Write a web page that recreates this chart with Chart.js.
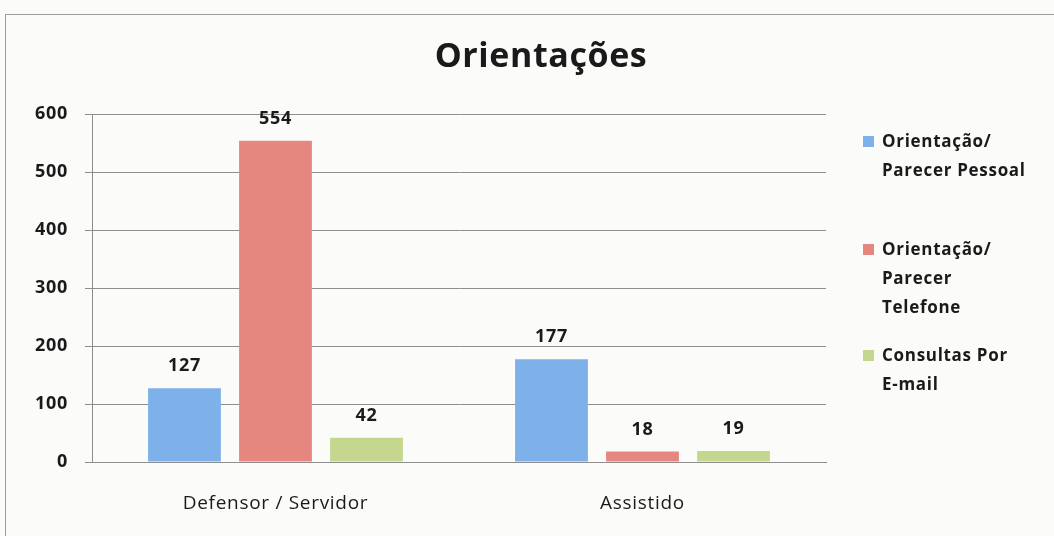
<!DOCTYPE html>
<html>
<head>
<meta charset="utf-8">
<script src="https://cdn.jsdelivr.net/npm/chart.js@4/dist/chart.umd.min.js"></script>
<style>
  html, body { margin: 0; padding: 0; background: #fbfcfa; }
  #wrap { position: relative; width: 1054px; height: 536px; overflow: hidden; }
  #frame {
    position: absolute; left: 5px; top: 14px; width: 1100px; height: 600px;
    border-top: 1px solid #9d9d9d; border-left: 1px solid #9d9d9d;
  }
  canvas { position: absolute; left: 0; top: 0; }
</style>
</head>
<body>
<div id="wrap">
  <div id="frame"></div>
  <canvas id="chart" width="1054" height="536"></canvas>
</div>
<script>
// ─── Data ───────────────────────────────────────────────────

const TITLE = 'Orientações';
const categories = ['Defensor / Servidor', 'Assistido'];
const seriesNames = [
  'Orientação/ Parecer Pessoal',
  'Orientação/ Parecer Telefone',
  'Consultas Por E-mail',
];
const legendLines = [
  ['Orientação/', 'Parecer Pessoal'],
  ['Orientação/', 'Parecer', 'Telefone'],
  ['Consultas Por', 'E-mail'],
];
const pessoal = [127, 177];
const telefone = [554, 18];
const email = [42, 19];
const yMin = 0;
const yMax = 600;
const yStep = 100;

const seriesColors = ['#7eb1ea', '#e6877f', '#c5d78e'];

// ─── Styling ────────────────────────────────────────────────

const FONT = '"Open Sans", Lato, sans-serif';
const GRID = '#8e8e8e';
const INK = '#1a1a1a';

// ─── Title, legend and value labels ─────────────────────────

const decorPlugin = {
  id: 'decor',
  beforeDraw(chart) {
    // the scanned original has loose letter spacing everywhere
    chart.ctx.letterSpacing = '0.7px';
  },
  afterDraw(chart) {
    const ctx = chart.ctx;
    const area = chart.chartArea;
    ctx.save();

    // title
    ctx.fillStyle = INK;
    ctx.letterSpacing = '0.6px';
    ctx.font = `bold 34px ${FONT}`;
    ctx.textAlign = 'center';
    ctx.textBaseline = 'middle';
    ctx.fillText(TITLE, 541, 57);

    // value labels above bars
    ctx.letterSpacing = '0.7px';
    ctx.font = `bold 18px ${FONT}`;
    chart.data.datasets.forEach((ds, i) => {
      const meta = chart.getDatasetMeta(i);
      meta.data.forEach((bar, j) => {
        const y = Math.max(bar.y - 22, area.top + 4);
        ctx.fillText(String(ds.data[j]), bar.x, y);
      });
    });

    // legend
    const itemTops = [142, 250, 356];
    const lineH = 29;
    ctx.textAlign = 'left';
    ctx.font = `bold 17px ${FONT}`;
    legendLines.forEach((lines, i) => {
      const y0 = itemTops[i];
      ctx.fillStyle = seriesColors[i];
      ctx.fillRect(863, y0 - 6, 11, 11);
      ctx.fillStyle = INK;
      lines.forEach((t, k) => ctx.fillText(t, 882, y0 + k * lineH));
    });

    ctx.restore();
  },
};

// ─── Chart ──────────────────────────────────────────────────

const datasets = [pessoal, telefone, email].map((values, i) => ({
  label: seriesNames[i],
  data: values,
  backgroundColor: seriesColors[i],
  borderWidth: 0,
  categoryPercentage: 0.744,
  barPercentage: 0.80,
}));

new Chart(document.getElementById('chart'), {
  type: 'bar',
  data: { labels: categories, datasets },
  plugins: [decorPlugin],
  options: {
    responsive: false,
    animation: false,
    layout: { padding: { left: 0, right: 228, top: 114, bottom: 0 } },
    plugins: {
      legend: { display: false },
      title: { display: false },
      tooltip: { enabled: false },
    },
    scales: {
      x: {
        grid: { display: false, drawTicks: false },
        border: { display: true, color: GRID, width: 1 },
        ticks: { color: INK, padding: 30, font: { family: FONT, size: 19 } },
        afterFit: scale => { scale.height = 74; },
      },
      y: {
        min: yMin,
        max: yMax,
        ticks: {
          stepSize: yStep,
          color: INK,
          padding: 17,
          font: { family: FONT, size: 18, weight: 'bold' },
        },
        grid: { color: GRID, lineWidth: 1, tickLength: 7 },
        border: { display: true, color: GRID, width: 1 },
        afterFit: scale => { scale.width = 92; },
      },
    },
  },
});
</script>
</body>
</html>
